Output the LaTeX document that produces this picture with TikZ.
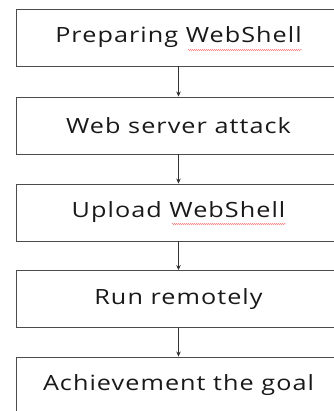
\documentclass[tikz,border=0pt]{standalone}
\usepackage{fontspec}
\setmainfont[LetterSpace=5,FakeStretch=1.2]{Open Sans}
\usetikzlibrary{arrows.meta,decorations.pathmorphing}
\tikzset{
  stagebox/.style={draw=black!70, line width=0.9pt, minimum width=325pt, minimum height=57pt, inner sep=0pt, font=\fontsize{21}{24}\selectfont, text=black!90},
  flow/.style={draw=black!80, line width=0.7pt, -{Stealth[length=5pt,width=4.5pt]}},
  spell/.style={draw=red!70, line width=0.4pt, decorate, decoration={snake, amplitude=0.5pt, segment length=2pt}}
}
\begin{document}
\begin{tikzpicture}[x=1pt,y=1pt]
\useasboundingbox (0,0) rectangle (333,411);
\node[stagebox] (b1) at (178.5,373.5) {Preparing WebShell};
\node[stagebox] (b2) at (178.5,285.5) {Web server attack};
\node[stagebox] (b3) at (178.5,198.5) {Upload WebShell};
\node[stagebox] (b4) at (178.5,112) {Run remotely};
\node[stagebox] (b5) at (178.5,25.5) {Achievement the goal};
\draw[flow] (b1.south) -- (b2.north);
\draw[flow] (b2.south) -- (b3.north);
\draw[flow] (b3.south) -- (b4.north);
\draw[flow] (b4.south) -- (b5.north);
\coordinate (u1a) at (188,361); \coordinate (u1b) at (302,361);
\coordinate (u3a) at (172,187); \coordinate (u3b) at (286,187);
\draw[spell] (u1a) -- (u1b);
\draw[spell] (u3a) -- (u3b);
\end{tikzpicture}
\end{document}
